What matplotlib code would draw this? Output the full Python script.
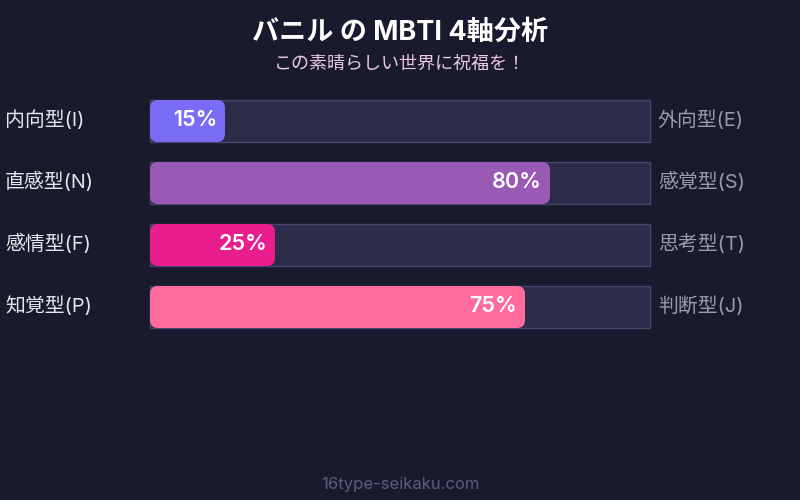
import matplotlib
matplotlib.use("Agg")
import matplotlib.pyplot as plt
import matplotlib.patches as patches

plt.rcParams['font.family'] = ['Inter', 'Noto Sans CJK JP', 'DejaVu Sans']

# data
left_labels = ["内向型(I)", "直感型(N)", "感情型(F)", "知覚型(P)"]
right_labels = ["外向型(E)", "感覚型(S)", "思考型(T)", "判断型(J)"]
values = [15, 80, 25, 75]
bar_colors = ["#7b6cf6", "#9b59b6", "#e91e8c", "#ff6b9d"]

title = "バニル の MBTI 4軸分析"
subtitle = "この素晴らしい世界に祝福を！"
footer = "16type-seikaku.com"

BG = "#1a1a2e"
TRACK = "#2d2b4a"
TRACK_EDGE = "#47456b"

fig = plt.figure(figsize=(8, 5), dpi=100, facecolor=BG)
ax = fig.add_axes([0, 0, 1, 1])
ax.set_facecolor(BG)
ax.set_xlim(0, 800)
ax.set_ylim(500, 0)
ax.axis("off")

track_x, track_w = 150, 500
bar_h = 42
row_top = 100
row_gap = 62


def to_x(v):
    return track_x + track_w * v / 100.0


for i, (ll, rl, v, c) in enumerate(zip(left_labels, right_labels, values, bar_colors)):
    y = row_top + i * row_gap
    cy = y + bar_h / 2 - 1

    # background track
    ax.add_patch(patches.Rectangle((track_x, y), track_w, bar_h,
                                   facecolor=TRACK, edgecolor=TRACK_EDGE,
                                   linewidth=1, zorder=1))
    # filled part
    end = to_x(v)
    ax.add_patch(patches.FancyBboxPatch((track_x, y), end - track_x, bar_h,
                                        boxstyle="round,pad=0,rounding_size=8",
                                        facecolor=c, edgecolor="none", zorder=2))

    ax.text(end - 8, cy, f"{v}%", ha="right", va="center", color="white",
            fontsize=15.5, fontweight="semibold", zorder=3)
    ax.text(5, cy, ll, ha="left", va="center", color="#e6e6ee", fontsize=14.3)
    ax.text(658, cy, rl, ha="left", va="center", color="#9a9ab0", fontsize=14.3)

ax.text(400, 33, title, ha="center", va="center", color="white",
        fontsize=19.5, fontweight="bold")
ax.text(400, 64, subtitle, ha="center", va="center", color="#e8c6e8",
        fontsize=13)
ax.text(400, 484, footer, ha="center", va="center", color="#5c5c7e",
        fontsize=12)

fig.savefig("out.png", dpi=100, facecolor=BG)
